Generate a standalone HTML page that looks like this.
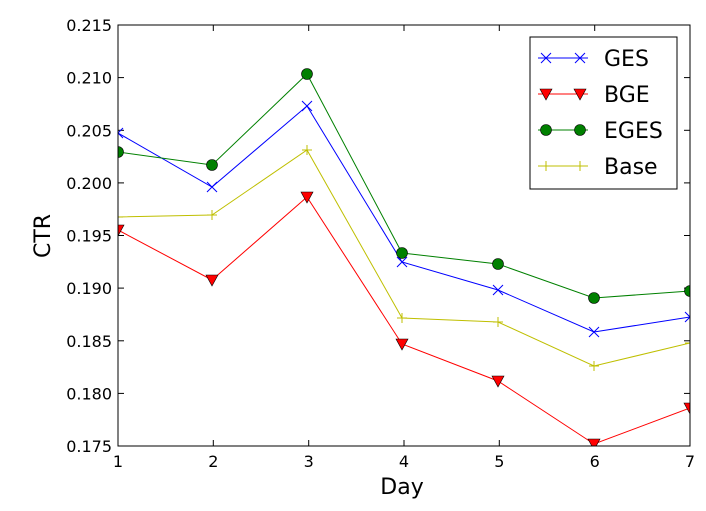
<!DOCTYPE html>
<html><head><style>body{margin:0;background:#fff}</style></head><body>
<svg width="706" height="506" xmlns="http://www.w3.org/2000/svg" font-family="DejaVu Sans, Liberation Sans, sans-serif">
<rect width="706" height="506" fill="#fff"/>
<g stroke="#000" stroke-width="1">
<line x1="118" y1="77.6" x2="124" y2="77.6"/><line x1="118" y1="130.3" x2="124" y2="130.3"/><line x1="118" y1="182.9" x2="124" y2="182.9"/><line x1="118" y1="235.5" x2="124" y2="235.5"/><line x1="118" y1="288.1" x2="124" y2="288.1"/><line x1="118" y1="340.8" x2="124" y2="340.8"/><line x1="118" y1="393.4" x2="124" y2="393.4"/>
<line x1="684" y1="77.6" x2="690" y2="77.6"/><line x1="684" y1="130.3" x2="690" y2="130.3"/><line x1="684" y1="182.9" x2="690" y2="182.9"/><line x1="684" y1="235.5" x2="690" y2="235.5"/><line x1="684" y1="288.1" x2="690" y2="288.1"/><line x1="684" y1="340.8" x2="690" y2="340.8"/><line x1="684" y1="393.4" x2="690" y2="393.4"/>
<line x1="213.3" y1="446" x2="213.3" y2="440"/><line x1="308.7" y1="446" x2="308.7" y2="440"/><line x1="404" y1="446" x2="404" y2="440"/><line x1="499.3" y1="446" x2="499.3" y2="440"/><line x1="594.7" y1="446" x2="594.7" y2="440"/>
<line x1="213.3" y1="25" x2="213.3" y2="31"/><line x1="308.7" y1="25" x2="308.7" y2="31"/><line x1="404" y1="25" x2="404" y2="31"/><line x1="499.3" y1="25" x2="499.3" y2="31"/><line x1="594.7" y1="25" x2="594.7" y2="31"/>
</g>
<g font-size="16" text-anchor="end">
<text x="112" y="31">0.215</text><text x="112" y="83.6">0.210</text><text x="112" y="136.3">0.205</text><text x="112" y="188.9">0.200</text><text x="112" y="241.5">0.195</text><text x="112" y="294.1">0.190</text><text x="112" y="346.8">0.185</text><text x="112" y="399.4">0.180</text><text x="112" y="452">0.175</text>
</g>
<g font-size="16" text-anchor="middle">
<text x="118" y="467">1</text><text x="213.3" y="467">2</text><text x="308.7" y="467">3</text><text x="404" y="467">4</text><text x="499.3" y="467">5</text><text x="594.7" y="467">6</text><text x="690" y="467">7</text>
</g>
<text x="402" y="494" font-size="22" text-anchor="middle">Day</text>
<text transform="translate(50,236) rotate(-90)" font-size="22" text-anchor="middle">CTR</text>
<defs><clipPath id="c"><rect x="118" y="25" width="572" height="421"/></clipPath></defs>
<g clip-path="url(#c)" fill="none">
<polyline stroke="#bfbf00" points="118,217 212,215 307,150 402,318 498,322 594,366 690,343"/>
<g stroke="#bfbf00"><path d="M113,217h10M118,212v10M207,215h10M212,210v10M302,150h10M307,145v10M397,318h10M402,313v10M493,322h10M498,317v10M589,366h10M594,361v10M685,343h10M690,338v10"/></g>
<polyline stroke="#ff0000" points="118,230 212,280 307,197 402,344 498,381 594,444 690,408"/>
<g fill="#ff0000" stroke="#000" stroke-width="0.6">
<path d="M112,225h12l-6,11z"/><path d="M206,275h12l-6,11z"/><path d="M301,192h12l-6,11z"/><path d="M396,339h12l-6,11z"/><path d="M492,376h12l-6,11z"/><path d="M588,439h12l-6,11z"/><path d="M684,403h12l-6,11z"/>
</g>
<polyline stroke="#0000ff" points="118,133 212,187 307,106 402,262 498,290 594,332 690,317"/>
<g stroke="#0000ff"><path d="M113,128l10,10M123,128l-10,10M207,182l10,10M217,182l-10,10M302,101l10,10M312,101l-10,10M397,257l10,10M407,257l-10,10M493,285l10,10M503,285l-10,10M589,327l10,10M599,327l-10,10M685,312l10,10M695,312l-10,10"/></g>
<polyline stroke="#008000" points="118,152 212,165 307,74 402,253 498,264 594,298 690,291"/>
<g fill="#008000" stroke="#000" stroke-width="0.6">
<circle cx="118" cy="152" r="5.5"/><circle cx="212" cy="165" r="5.5"/><circle cx="307" cy="74" r="5.5"/><circle cx="402" cy="253" r="5.5"/><circle cx="498" cy="264" r="5.5"/><circle cx="594" cy="298" r="5.5"/><circle cx="690" cy="291" r="5.5"/>
</g>
</g>
<rect x="118" y="25" width="572" height="421" fill="none" stroke="#000"/>
<rect x="530" y="37" width="147" height="152" fill="#fff" stroke="#000"/>
<g fill="none">
<line x1="538" y1="58" x2="588" y2="58" stroke="#0000ff"/><path d="M541,53l10,10M551,53l-10,10M575,53l10,10M585,53l-10,10" stroke="#0000ff"/>
<line x1="538" y1="94" x2="588" y2="94" stroke="#ff0000"/>
<path d="M540,89h12l-6,11zM574,89h12l-6,11z" fill="#ff0000" stroke="#000" stroke-width="0.6"/>
<line x1="538" y1="130" x2="588" y2="130" stroke="#008000"/>
<circle cx="546" cy="130" r="5.5" fill="#008000" stroke="#000" stroke-width="0.6"/><circle cx="580" cy="130" r="5.5" fill="#008000" stroke="#000" stroke-width="0.6"/>
<line x1="538" y1="166" x2="588" y2="166" stroke="#bfbf00"/><path d="M541,166h10M546,161v10M575,166h10M580,161v10" stroke="#bfbf00"/>
</g>
<g font-size="22"><text x="604" y="66">GES</text><text x="604" y="102">BGE</text><text x="604" y="138">EGES</text><text x="604" y="174">Base</text></g>
</svg>
</body></html>
